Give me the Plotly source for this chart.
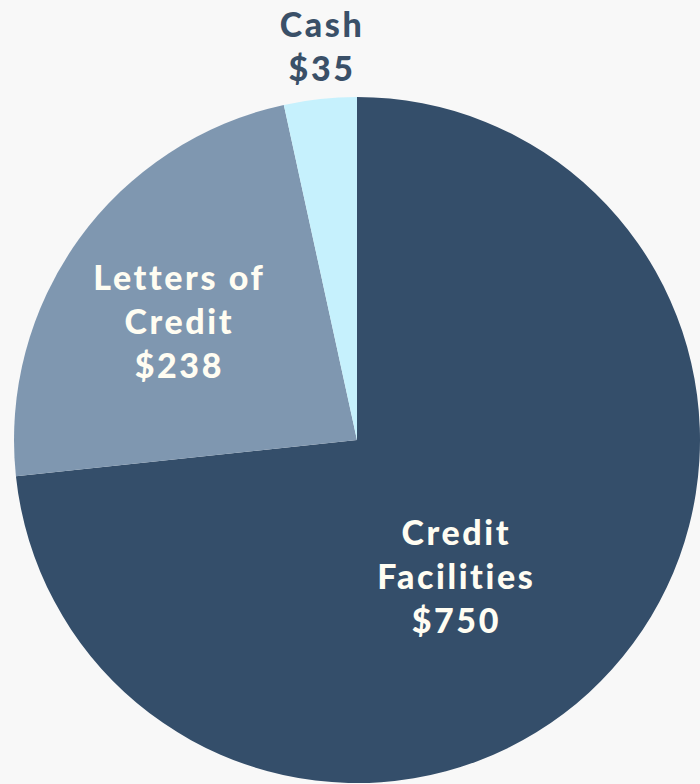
import plotly.graph_objects as go

labels = ["Credit<br>Facilities", "Letters of<br>Credit", "Cash"]
values = [750, 238, 35]
colors = ["#344E6A", "#7F97B0", "#C6F1FD"]
text_colors = ["#FFFDF2", "#FFFDF2", "#3A5068"]
# label block centres in pixels (x, y)
label_pos = [(457, 575), (180, 320), (322, 45)]

W, H = 700, 784

fig = go.Figure(go.Pie(
    labels=labels,
    values=values,
    marker=dict(colors=colors, line=dict(width=0)),
    sort=False,
    direction="clockwise",
    rotation=0,
    textinfo="none",
    hoverinfo="label+value",
    domain=dict(x=[14 / W, 1.0], y=[1 / H, 1 - 97 / H]),
    showlegend=False,
))

for lab, val, tc, (px, py) in zip(labels, values, text_colors, label_pos):
    fig.add_annotation(
        x=px / W, y=1 - py / H, xref="paper", yref="paper",
        text=f"{lab}<br>${val}", showarrow=False,
        xanchor="center", yanchor="middle", align="center",
        font=dict(family="Lato", size=34, color=tc, weight=900),
    )

fig.update_layout(
    width=W, height=H,
    margin=dict(l=0, r=0, t=0, b=0),
    paper_bgcolor="#F8F8F8",
    plot_bgcolor="#F8F8F8",
)

fig.write_html(
    "out.html",
    config={"displayModeBar": False},
    post_script=(
        "document.body.style.margin='0';"
        "document.documentElement.style.overflow='hidden';"
        "document.body.style.background='#F8F8F8';"
        "document.querySelectorAll('.annotation-text').forEach(function(e){"
        "e.style.letterSpacing='2.6px';e.style.fontVariantLigatures='none';});"
    ),
)
